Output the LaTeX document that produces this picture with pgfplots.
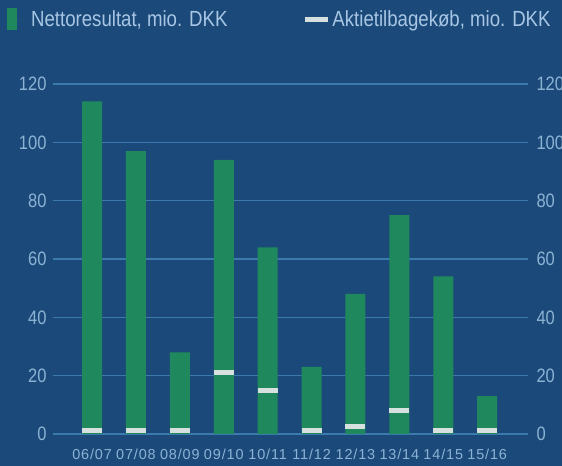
\documentclass[border=0pt]{standalone}
\usepackage{fontspec}
\setmainfont{Liberation Sans}
\newfontfamily\cond{Liberation Sans}[FakeStretch=0.85]
\newfontfamily\xlab{Liberation Sans}[LetterSpace=6]
\usepackage{pgfplots}
\pgfplotsset{compat=1.18}
\definecolor{bg}{RGB}{27,74,122}
\definecolor{gridc}{RGB}{58,122,172}
\definecolor{barc}{RGB}{31,136,92}
\definecolor{markc}{RGB}{214,224,222}
\definecolor{labc}{RGB}{140,178,212}
\definecolor{legc}{RGB}{168,198,228}
\pgfplotsset{
  common/.style={
    at={(53bp,32bp)}, anchor=south west,
    scale only axis, width=475bp, height=350bp,
    xmin=-0.89, xmax=9.93, ymin=0, ymax=120,
    ytick={0,20,...,120},
    axis line style={draw=none}, major tick style={draw=none},
    yticklabel style={font=\cond\fontsize{19.5}{19.5}\selectfont, text=labc},
    /pgf/number format/assume math mode=true,
  }
}
\begin{document}
\begin{tikzpicture}
\fill[bg] (0,0) rectangle (562bp,466bp);
\path[use as bounding box] (0,0) rectangle (562bp,466bp);
\begin{axis}[common,
  ymajorgrids, grid style={gridc, line width=1.2bp},
  yticklabel style={xshift=-3bp},
  xtick={0,...,9},
  xticklabels={06/07,07/08,08/09,09/10,10/11,11/12,12/13,13/14,14/15,15/16},
  xticklabel style={font=\xlab\fontsize{14.5}{14.5}\selectfont, text=labc, yshift=-12bp},
  legend columns=2,
  legend style={draw=none, fill=none, at={(-0.097,1.217)}, anchor=north west,
    font=\cond\fontsize{22}{22}\selectfont, text=legc, inner sep=0pt,
    /tikz/every even column/.append style={column sep=73bp}},
]
\addplot[ybar, bar width=20bp, fill=barc, draw=none,
  legend image code/.code={\fill[barc] (0bp,-11bp) rectangle (10bp,11bp);
    \path (0bp,0bp) -- (22bp,0bp);}]
  coordinates {(0,114) (1,97) (2,28) (3,94) (4,64) (5,23) (6,48) (7,75) (8,54) (9,13)};
\addlegendentry{Nettoresultat, mio. DKK}
\addplot[only marks, mark=-, mark size=10bp, mark options={line width=5bp, draw=markc},
  legend image code/.code={\draw[markc, line width=5bp] (0bp,0bp) -- (23bp,0bp);}]
  coordinates {(0,1.1) (1,1.1) (2,1.1) (3,21) (4,15) (5,1.1) (6,2.7) (7,8.2) (8,1.1) (9,1.1)};
\addlegendentry{Aktietilbagekøb, mio. DKK}
\end{axis}
\begin{axis}[common, yticklabel pos=right, xtick=\empty,
  yticklabel style={anchor=west, xshift=5bp}]
\end{axis}
\end{tikzpicture}
\end{document}
